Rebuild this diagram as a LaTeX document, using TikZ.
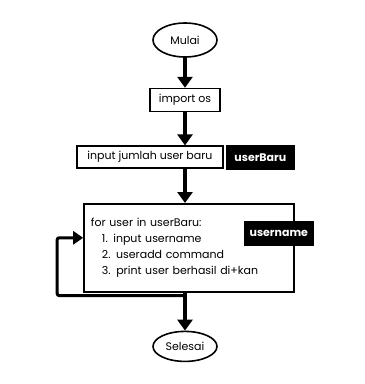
\documentclass[tikz,border=0pt]{standalone}
\usepackage{fontspec}
\setmainfont{Poppins}
\usetikzlibrary{shapes.geometric,arrows.meta,positioning}

\begin{document}
\begin{tikzpicture}[
    node distance=30pt,
    every node/.style={font=\fontsize{11}{16}\selectfont},
    terminal/.style={draw, ellipse, line width=1.6pt, minimum width=64pt, minimum height=34pt, inner sep=1pt},
    process/.style={draw, line width=1.6pt, minimum height=23pt, inner sep=3pt},
    tag/.style={draw, fill=black, text=white, line width=1.2pt, minimum height=24pt, inner sep=3pt, font=\fontsize{11}{12}\selectfont\bfseries},
    flow/.style={line width=3.5pt, -{Triangle[length=11pt,width=15pt]}},
    flowline/.style={line width=3pt}
]
% start
\node[terminal] (mulai) {Mulai};
\node[process, below=30pt of mulai, minimum width=70pt] (imp) {import os};
\node[process, below=33pt of imp, xshift=-35pt, minimum width=146pt, minimum height=22pt] (jumlah) {input jumlah user baru};
\node[tag, right=2pt of jumlah, minimum width=68pt] (userbaru) {userBaru};
% loop body
\node[process, below=34pt of jumlah, xshift=39pt, minimum width=210pt, minimum height=88pt,
      text width=196pt, align=left] (loopbox)
    {for user in userBaru:\\
     \hspace*{11pt}1. input username\\
     \hspace*{11pt}2. useradd command\\
     \hspace*{11pt}3. print user berhasil di+kan\\[14pt]};
\node[tag, minimum width=69pt] (uname) at ([xshift=-16pt,yshift=14pt]loopbox.east) {username};
\node[terminal, below=38pt of loopbox.south -| imp, minimum height=30pt] (selesai) {Selesai};

% connectors
\draw[flow] (mulai) -- (imp);
\draw[flow] (imp) -- (imp |- jumlah.north);
\draw[flow] (imp |- jumlah.south) -- (imp |- loopbox.north);
\draw[flow] (imp |- loopbox.south) -- (selesai);
\coordinate[below=3pt of loopbox.south -| imp] (split);
\coordinate (back) at ([yshift=10pt]loopbox.west);
\draw[flowline, rounded corners=2pt, -{Triangle[length=10pt,width=13pt]}] (split) -| ([xshift=-26pt]back) -- (back);

\useasboundingbox (-185pt,40pt) rectangle (180pt,-344pt);
\end{tikzpicture}
\end{document}
